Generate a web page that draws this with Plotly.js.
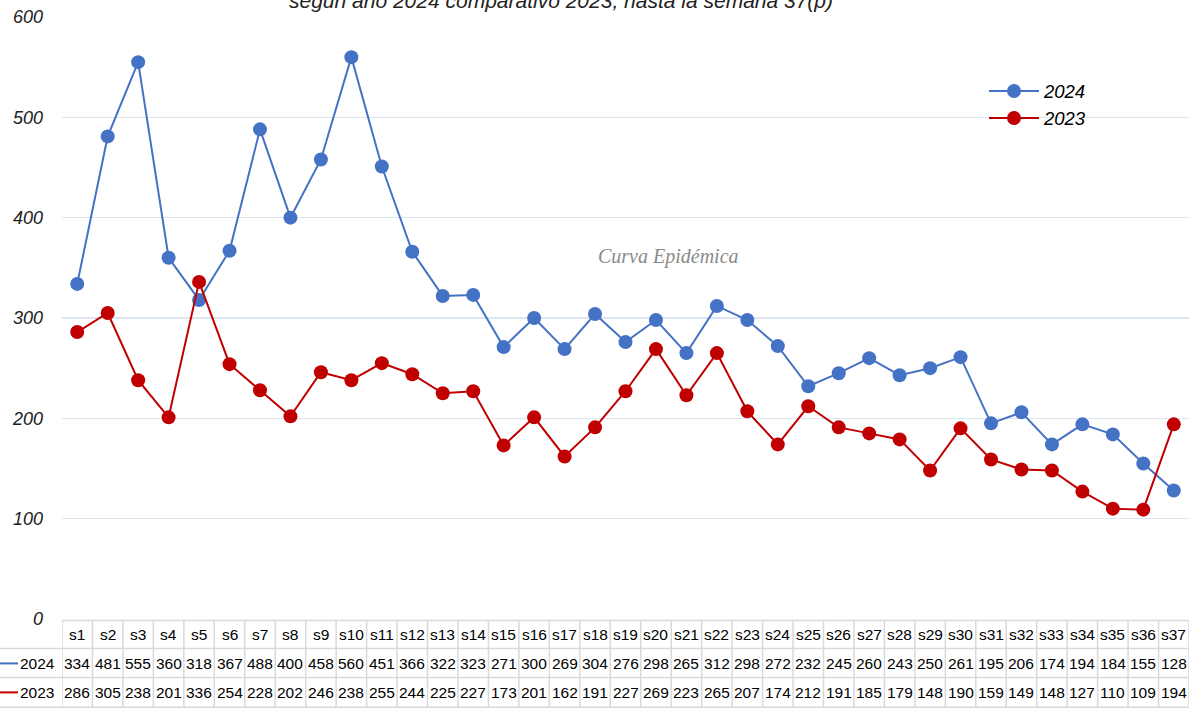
<!DOCTYPE html>
<html>
<head>
<meta charset="utf-8">
<script src="https://cdn.plot.ly/plotly-3.0.1.min.js"></script>
<style>html,body{margin:0;padding:0;background:#fff;}#chart{width:1195px;height:712px;}</style>
</head>
<body>
<div id="chart"></div>
<script>
const weeks = ["s1","s2","s3","s4","s5","s6","s7","s8","s9","s10","s11","s12","s13","s14","s15","s16","s17","s18","s19","s20","s21","s22","s23","s24","s25","s26","s27","s28","s29","s30","s31","s32","s33","s34","s35","s36","s37"];
const cases2024 = [334,481,555,360,318,367,488,400,458,560,451,366,322,323,271,300,269,304,276,298,265,312,298,272,232,245,260,243,250,261,195,206,174,194,184,155,128];
const cases2023 = [286,305,238,201,336,254,228,202,246,238,255,244,225,227,173,201,162,191,227,269,223,265,207,174,212,191,185,179,148,190,159,149,148,127,110,109,194];
const yTicks = [0,100,200,300,400,500,600];
const titleText = "según año 2024 comparativo 2023, hasta la semana 37(p)";
const watermark = "Curva Epidémica";

const BLUE = "#4472C4", RED = "#C00000", BORDER = "#d9d9d9";
const xIdx = weeks.map((w,i)=>i);

const traces = [
  {x: xIdx, y: cases2024, name: "2024", type: "scatter", mode: "lines+markers",
   line: {color: BLUE, width: 2}, marker: {color: BLUE, size: 14}},
  {x: xIdx, y: cases2023, name: "2023", type: "scatter", mode: "lines+markers",
   line: {color: RED, width: 2}, marker: {color: RED, size: 14}}
];

// table geometry (paper coords)
const plotTop = 16.5, plotBot = 619.5, H = plotBot - plotTop;
const plotL = 62, plotR = 1189, W = plotR - plotL;
const py = p => (plotBot - p) / H;   // pixel y -> paper y
const px = p => (p - plotL) / W;     // pixel x -> paper x

const shapes = [];
const annotations = [];
const lineY = [621, 649, 678, 708];
shapes.push({type:"line", xref:"x", yref:"paper", x0:-0.5, x1:weeks.length-0.5, y0:py(lineY[0]), y1:py(lineY[0]), line:{color:BORDER, width:1.5}});
for (let k=1;k<lineY.length;k++){
  shapes.push({type:"line", xref:"paper", yref:"paper", x0:px(0), x1:1, y0:py(lineY[k]), y1:py(lineY[k]), line:{color:BORDER, width:1.5}});
}
for (let i=0;i<=weeks.length;i++){
  shapes.push({type:"line", xref:"x", yref:"paper", x0:i-0.5, x1:i-0.5, y0:py(lineY[0]), y1:py(lineY[3]), line:{color:BORDER, width:1.5}});
}
const rowY = [635, 664, 693];
const cellFont = {family:"Liberation Sans, Arial, sans-serif", size:15.5, color:"#000"};
function cell(xref, x, y, text){
  annotations.push({xref:xref, yref:"paper", x:x, y:y, text:text, showarrow:false, xanchor:"center", yanchor:"middle", font:cellFont});
}
weeks.forEach((w,i)=>{
  cell("x", i, py(rowY[0]), w);
  cell("x", i, py(rowY[1]), String(cases2024[i]));
  cell("x", i, py(rowY[2]), String(cases2023[i]));
});
[["2024", BLUE, rowY[1]], ["2023", RED, rowY[2]]].forEach(([lab,col,yy])=>{
  shapes.push({type:"line", xref:"paper", yref:"paper", x0:px(0), x1:px(18), y0:py(yy), y1:py(yy), line:{color:col, width:2}});
  cell("paper", px(37), py(yy), lab);
});
// title (clipped at top, as in the source image)
annotations.push({xref:"paper", yref:"paper", x:px(561), y:py(13), yanchor:"bottom", xanchor:"center",
  text:titleText, showarrow:false, font:{family:"Liberation Sans, Arial, sans-serif", size:21, color:"#222", style:"italic"}});
// watermark
annotations.push({xref:"paper", yref:"paper", x:px(668), y:py(256), xanchor:"center", yanchor:"middle", text:watermark, showarrow:false,
  font:{family:"Liberation Serif, serif", size:20, color:"#8a8a8a", style:"italic"}});

const layout = {
  width: 1195, height: 712,
  margin: {l: plotL, r: 1195 - plotR, t: plotTop, b: 712 - plotBot},
  paper_bgcolor: "#fff", plot_bgcolor: "#fff",
  showlegend: true,
  legend: {x: px(984), y: py(72), xanchor:"left", yanchor:"top", bgcolor:"rgba(0,0,0,0)",
    font:{family:"Liberation Sans, Arial, sans-serif", size:18.5, color:"#000", style:"italic"},
    itemwidth: 50, tracegroupgap: 0},
  xaxis: {range:[-0.5, weeks.length-0.5], showticklabels:false, showgrid:false, zeroline:false, showline:false, ticks:""},
  yaxis: {range:[0,600], tickvals: yTicks, showgrid:true, gridcolor:"#dce6f2", gridwidth:1.5, zeroline:false, showline:false,
    ticks:"", ticklabelstandoff: 18,
    tickfont:{family:"Liberation Sans, Arial, sans-serif", size:18, color:"#222", style:"italic"}},
  shapes: shapes,
  annotations: annotations
};

Plotly.newPlot("chart", traces, layout, {displayModeBar:false, staticPlot:true});
</script>
</body>
</html>
